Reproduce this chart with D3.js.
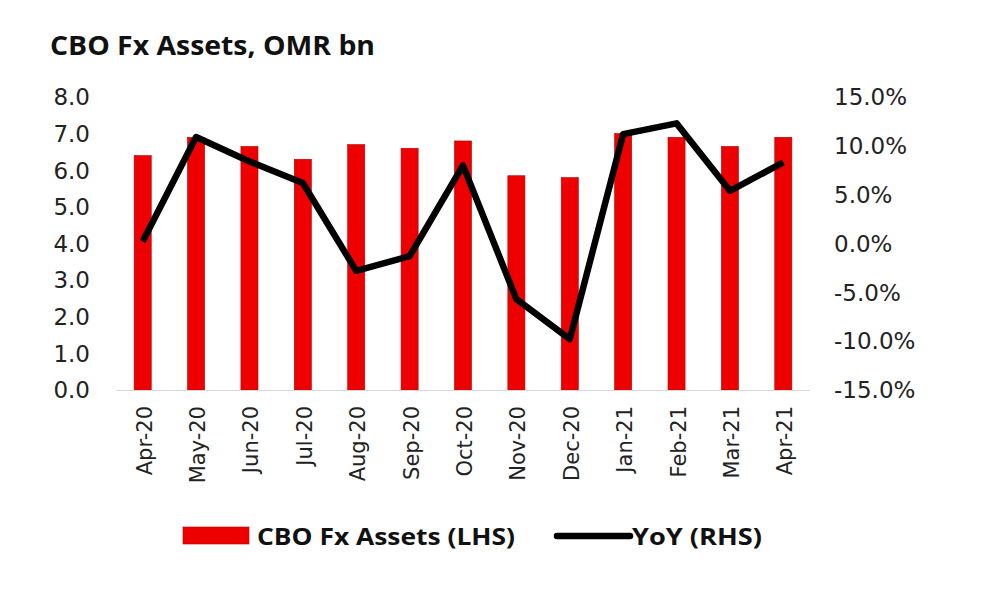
<!DOCTYPE html>
<html>
<head>
<meta charset="utf-8">
<script src="https://cdn.jsdelivr.net/npm/d3@7"></script>
<style>
  body { margin: 0; background: #fff; }
  svg { display: block; }
</style>
</head>
<body>
<svg id="chart"></svg>
<script>
const months = ["Apr-20", "May-20", "Jun-20", "Jul-20", "Aug-20", "Sep-20", "Oct-20",
                "Nov-20", "Dec-20", "Jan-21", "Feb-21", "Mar-21", "Apr-21"];
const fx_assets = [6.4, 6.9, 6.65, 6.3, 6.7, 6.6, 6.8, 5.85, 5.8, 7.0, 6.9, 6.65, 6.9];
const yoy = [0.2, 10.9, 8.4, 6.2, -2.8, -1.3, 8.0, -5.7, -9.8, 11.2, 12.3, 5.4, 8.3];
const left_ticks = [0, 1, 2, 3, 4, 5, 6, 7, 8];
const right_ticks = [-15, -10, -5, 0, 5, 10, 15];

const width = 1000, height = 604;
const plot_left = 116, plot_right = 810, plot_top = 97, plot_bottom = 390;
const axis_font = "'DejaVu Sans', Verdana, sans-serif";
const text_font = "'Open Sans', Lato, sans-serif";

const svg = d3.select("#chart").attr("width", width).attr("height", height);

const x = d3.scaleBand().domain(months).range([plot_left, plot_right])
    .paddingInner(0.68).paddingOuter(0.34);
const y_left = d3.scaleLinear().domain([0, 8]).range([plot_bottom, plot_top]);
const y_right = d3.scaleLinear().domain([-15, 15]).range([plot_bottom, plot_top]);

// title
svg.append("text")
    .attr("x", 50).attr("y", 55)
    .attr("font-family", text_font).attr("font-weight", "bold")
    .attr("font-size", 26).attr("fill", "#111")
    .attr("textLength", 325).attr("lengthAdjust", "spacingAndGlyphs")
    .text("CBO Fx Assets, OMR bn");

// bars
svg.append("g").selectAll("rect").data(fx_assets).enter().append("rect")
    .attr("x", (d, i) => x(months[i]))
    .attr("width", x.bandwidth())
    .attr("y", d => y_left(d))
    .attr("height", d => y_left(0) - y_left(d))
    .attr("fill", "#ee0000")
    .attr("stroke", "#b30000")
    .attr("stroke-width", 0.6);

// baseline
svg.append("line")
    .attr("x1", plot_left).attr("x2", plot_right)
    .attr("y1", plot_bottom + 0.5).attr("y2", plot_bottom + 0.5)
    .attr("stroke", "#d9d9d9").attr("stroke-width", 1);

// yoy line
const line = d3.line()
    .x((d, i) => x(months[i]) + x.bandwidth() / 2)
    .y(d => y_right(d));

svg.append("path")
    .datum(yoy)
    .attr("d", line)
    .attr("fill", "none")
    .attr("stroke", "#000")
    .attr("stroke-width", 6.5)
    .attr("stroke-linejoin", "round");

// left axis labels
svg.append("g").selectAll("text").data(left_ticks).enter().append("text")
    .attr("x", 90)
    .attr("y", d => y_left(d))
    .attr("dy", "0.36em")
    .attr("text-anchor", "end")
    .attr("font-family", axis_font).attr("font-size", 23).attr("fill", "#222")
    .text(d => d.toFixed(1));

// right axis labels
svg.append("g").selectAll("text").data(right_ticks).enter().append("text")
    .attr("x", 834)
    .attr("y", d => y_right(d))
    .attr("dy", "0.36em")
    .attr("text-anchor", "start")
    .attr("font-family", axis_font).attr("font-size", 23).attr("fill", "#222")
    .text(d => d.toFixed(1) + "%");

// x labels, rotated
svg.append("g").selectAll("text").data(months).enter().append("text")
    .attr("transform", d => "translate(" + (x(d) + x.bandwidth() / 2 + 9) + "," + 406 + ") rotate(-90)")
    .attr("text-anchor", "end")
    .attr("font-family", axis_font).attr("font-size", 21).attr("fill", "#222")
    .text(d => d);

// legend
svg.append("rect")
    .attr("x", 183).attr("y", 527).attr("width", 66).attr("height", 17)
    .attr("fill", "#ee0000").attr("stroke", "#b30000").attr("stroke-width", 0.6);
svg.append("text")
    .attr("x", 257).attr("y", 545)
    .attr("font-family", text_font).attr("font-weight", "bold")
    .attr("font-size", 24).attr("fill", "#111")
    .attr("textLength", 258).attr("lengthAdjust", "spacingAndGlyphs")
    .text("CBO Fx Assets (LHS)");
svg.append("line")
    .attr("x1", 557).attr("x2", 630).attr("y1", 536).attr("y2", 536)
    .attr("stroke", "#000").attr("stroke-width", 6.5).attr("stroke-linecap", "round");
svg.append("text")
    .attr("x", 632).attr("y", 545)
    .attr("font-family", text_font).attr("font-weight", "bold")
    .attr("font-size", 24).attr("fill", "#111")
    .attr("textLength", 130).attr("lengthAdjust", "spacingAndGlyphs")
    .text("YoY (RHS)");
</script>
</body>
</html>
